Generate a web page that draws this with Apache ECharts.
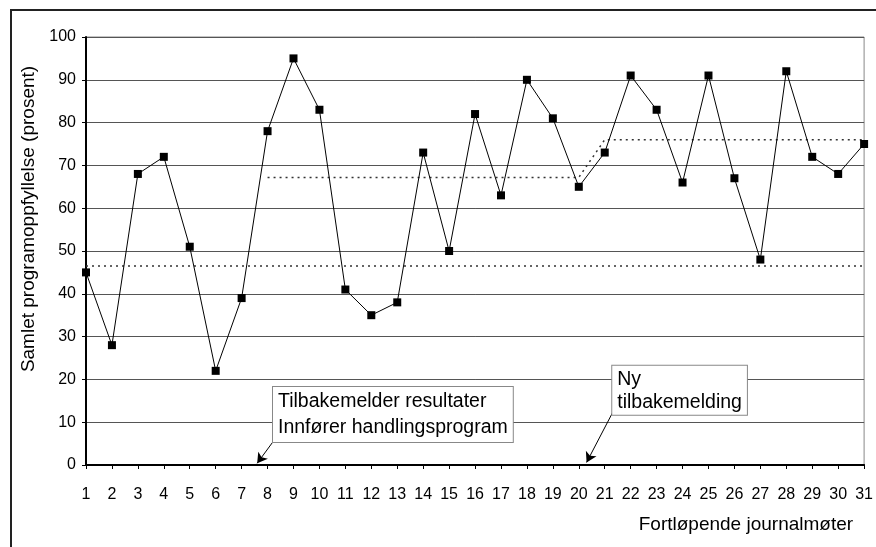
<!DOCTYPE html>
<html>
<head>
<meta charset="utf-8">
<script src="https://cdn.jsdelivr.net/npm/echarts@6/dist/echarts.min.js"></script>
<style>
  html, body { margin: 0; background: #fff; }
  #chart { width: 876px; height: 547px; }
</style>
</head>
<body>
<div id="chart"></div>
<script>
const sessions = [1, 2, 3, 4, 5, 6, 7, 8, 9, 10, 11, 12, 13, 14, 15, 16, 17, 18, 19, 20, 21, 22, 23, 24, 25, 26, 27, 28, 29, 30, 31];
const scores = [45, 28, 68, 72, 51, 22, 39, 78, 95, 83, 41, 35, 38, 73, 50, 82, 63, 90, 81, 65, 73, 91, 83, 66, 91, 67, 48, 92, 72, 68, 75];
// mean before feedback, drawn across the whole period
const baselineMean = [46.5, 46.5, 46.5, 46.5, 46.5, 46.5, 46.5, 46.5, 46.5, 46.5, 46.5, 46.5, 46.5, 46.5, 46.5, 46.5, 46.5, 46.5, 46.5, 46.5, 46.5, 46.5, 46.5, 46.5, 46.5, 46.5, 46.5, 46.5, 46.5, 46.5, 46.5];
// phase means after first and second feedback
const phaseMean = [null, null, null, null, null, null, null, 67.2, 67.2, 67.2, 67.2, 67.2, 67.2, 67.2, 67.2, 67.2, 67.2, 67.2, 67.2, 67.2, 76, 76, 76, 76, 76, 76, 76, 76, 76, 76, 76];
const yTicks = [0, 10, 20, 30, 40, 50, 60, 70, 80, 90, 100];

// callouts: box top-left, arrow start (box lower-left) and arrow tip, in data units
const notes = [
  { text: 'Tilbakemelder resultater\nInnfører handlingsprogram', box: [8.21, 18.2], from: [8.23, 5.6], tip: [7.6, 0.4], lh: 26 },
  { text: 'Ny\ntilbakemelding', box: [21.29, 23.2], from: [21.29, 12.1], tip: [20.3, 0.6], lh: 23 }
];

const font = "'Liberation Sans', Arial, sans-serif";
const chart = echarts.init(document.getElementById('chart'));

const zip = (arr) => sessions.map((s, i) => [s, arr[i]]);

const option = {
  animation: false,
  backgroundColor: '#fff',
  grid: {
    left: 86, right: 8, top: 37, bottom: 82,
    show: true, borderColor: '#888', borderWidth: 1
  },
  xAxis: {
    type: 'value',
    min: 1, max: 31, interval: 1,
    name: 'Fortløpende journalmøter',
    nameLocation: 'end',
    nameGap: -11,
    nameTextStyle: { fontFamily: font, fontSize: 19, color: '#000', align: 'right', verticalAlign: 'top', padding: [50, 0, 0, 0] },
    axisLine: { show: true, onZero: false, lineStyle: { color: '#000', width: 2 } },
    axisTick: { show: true, length: 4, lineStyle: { color: '#000' } },
    axisLabel: { margin: 22, fontFamily: font, fontSize: 16, color: '#000' },
    splitLine: { show: false }
  },
  yAxis: {
    type: 'value',
    min: 0, max: 100, interval: 10,
    name: 'Samlet programoppfyllelse (prosent)',
    nameLocation: 'middle',
    nameGap: 46,
    nameTextStyle: { fontFamily: font, fontSize: 19, color: '#000', padding: [0, 0, 0, 64] },
    axisLine: { show: true, lineStyle: { color: '#000', width: 2 } },
    axisTick: { show: true, length: 4, lineStyle: { color: '#000' } },
    axisLabel: {
      margin: 10, fontFamily: font, fontSize: 16, color: '#000',
      formatter: (v) => (yTicks.includes(v) ? String(v) : '')
    },
    splitLine: { show: true, lineStyle: { color: '#555', width: 1 } }
  },
  series: [
    {
      name: 'Baseline',
      type: 'line',
      data: zip(baselineMean),
      symbol: 'none',
      silent: true,
      lineStyle: { color: '#333', width: 1.5, type: [2, 4] },
      z: 2
    },
    {
      name: 'Fase',
      type: 'line',
      data: zip(phaseMean),
      symbol: 'none',
      silent: true,
      lineStyle: { color: '#333', width: 1.5, type: [2, 4] },
      z: 2
    },
    {
      name: 'Programoppfyllelse',
      type: 'line',
      data: zip(scores),
      symbol: 'rect',
      symbolSize: 8,
      itemStyle: { color: '#000' },
      lineStyle: { color: '#000', width: 1 },
      z: 3
    },
    {
      name: 'Piler',
      type: 'line',
      data: [],
      silent: true,
      markLine: {
        silent: true,
        symbol: ['none', 'arrow'],
        symbolSize: [9, 10],
        label: { show: false },
        lineStyle: { color: '#000', width: 1, type: 'solid' },
        data: notes.map((n) => [{ coord: n.from }, { coord: n.tip }])
      },
      z: 4
    }
  ]
};

chart.setOption(option);

// outer frame and callout boxes
const graphics = [
  {
    type: 'rect',
    shape: { x: 11, y: 10, width: 900, height: 600 },
    style: { fill: null, stroke: '#222', lineWidth: 2 },
    silent: true
  }
];
notes.forEach((n) => {
  const p = chart.convertToPixel({ gridIndex: 0 }, n.box);
  graphics.push({
    type: 'text',
    x: p[0], y: p[1],
    z: 10,
    style: {
      text: n.text,
      font: '19.5px ' + font,
      fill: '#000',
      lineHeight: n.lh,
      backgroundColor: '#fff',
      borderColor: '#888',
      borderWidth: 1,
      padding: [2, 5, 1, 5]
    }
  });
});
chart.setOption({ graphic: graphics });
</script>
</body>
</html>
